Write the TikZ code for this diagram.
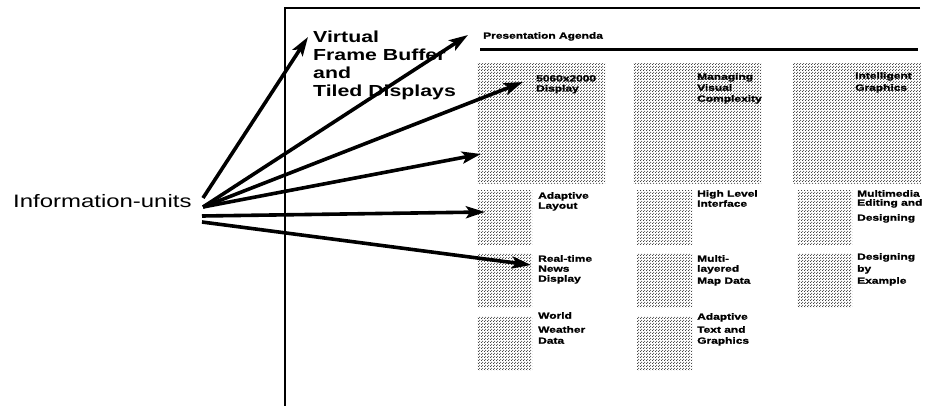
\documentclass[tikz,border=0pt]{standalone}
\usepackage{fontspec}
\setmainfont{Liberation Sans}
\newfontfamily\widesans{Liberation Sans}[FakeStretch=1.33]
\newfontfamily\heavysans{Liberation Sans}[FakeStretch=1.33,BoldFeatures={FakeBold=1.2}]
\usetikzlibrary{arrows.meta,patterns.meta}

% fine halftone dots used for the screen panels
\tikzdeclarepattern{
  name=stipple,
  type=uncolored,
  bottom left={(0pt,0pt)},
  top right={(2.6pt,2.6pt)},
  tile size={(2.6pt,2.6pt)},
  code={
    \fill (0.65pt,0.65pt) circle (0.58pt);
    \fill (1.95pt,1.95pt) circle (0.58pt);
  }
}

\begin{document}
\begin{tikzpicture}[x=1pt,y=-1pt,
  frame/.style={line width=2pt},
  rule/.style={line width=3pt},
  ray/.style={line width=3.6pt,-{Stealth[length=19pt,width=12pt,inset=4pt]}},
  panel/.style={pattern=stipple,pattern color=black!80,anchor=north west,inner sep=0pt},
  bigpanel/.style={panel,minimum width=128pt,minimum height=120pt},
  smallpanel/.style={panel,minimum width=55pt,minimum height=54pt},
  lbl/.style={anchor=north west,inner sep=0pt,align=left,
    font=\heavysans\bfseries\fontsize{9}{10}\selectfont},
]
\useasboundingbox (0,0) rectangle (945,406);

% page frame and agenda rule
\coordinate (fr-tr) at (920,8);
\coordinate (fr-tl) at (285,8);
\coordinate (fr-bl) at (285,406);
\draw[frame] (fr-tr) -- (fr-tl) -- (fr-bl);
\coordinate (ul-l) at (480,50);
\coordinate (ul-r) at (918,50);
\draw[rule] (ul-l) -- (ul-r);

% screen panels
\node[bigpanel] (big1) at (477,63) {};
\node[bigpanel] (big2) at (633,63) {};
\node[bigpanel] (big3) at (793,63) {};
\node[smallpanel] (s11) at (477,190) {};
\node[smallpanel] (s12) at (477,253) {};
\node[smallpanel] (s13) at (477,316) {};
\node[smallpanel] (s21) at (637,190) {};
\node[smallpanel] (s22) at (637,253) {};
\node[smallpanel] (s23) at (637,316) {};
\node[smallpanel] (s31) at (797,190) {};
\node[smallpanel] (s32) at (797,253) {};

% panel captions
\node[lbl] (agenda) at (483,32) {Presentation Agenda};
\node[lbl] (l-big1) at (536,75) {5060x2000\\Display};
\node[lbl] (l-big2) at (697,73) {Managing\\[1pt]Visual\\[1pt]Complexity};
\node[lbl] (l-big3) at (855,72) {Intelligent\\[2pt]Graphics};
\node[lbl] (l-s11) at (538,192) {Adaptive\\Layout};
\node[lbl] (l-s12) at (538,255) {Real-time\\News\\Display};
\node[lbl] (l-s13) at (538,312) {World\\[4pt]Weather\\[1pt]Data};
\node[lbl] (l-s21) at (697,190) {High Level\\Interface};
\node[lbl] (l-s22) at (697,255) {Multi-\\layered\\[2pt]Map Data};
\node[lbl] (l-s23) at (697,313) {Adaptive\\[3pt]Text and\\[1pt]Graphics};
\node[lbl] (l-s31) at (857,190) {Multimedia\\[-1pt]Editing and\\[5pt]Designing};
\node[lbl] (l-s32) at (857,253) {Designing\\[2pt]by\\[2pt]Example};

% headline of the frame
\node[anchor=north west,inner sep=0pt,align=left,
  font=\widesans\bfseries\fontsize{16}{18}\selectfont] (vfb) at (313,31)
  {Virtual\\Frame Buffer\\and\\Tiled Displays};

% source label
\node[anchor=base west,inner sep=0pt,font=\widesans\fontsize{18}{20}\selectfont]
  (info) at (13,208) {Information-units};

% ray origins next to the source label
\coordinate (o1) at (203,198);
\coordinate (o2) at (203,207);
\coordinate (o5) at (202,216);
\coordinate (o6) at (202,222);

% ray targets
\coordinate (t1) at (308,37);
\coordinate (t2) at (468,35);
\coordinate (t3) at (523,82);
\coordinate (t4) at (481,154);
\coordinate (t5) at (485,212);
\coordinate (t6) at (531,265);

\draw[ray] (o1) -- (t1);
\draw[ray] (o2) -- (t2);
\draw[ray] (o2) -- (t3);
\draw[ray] (o2) -- (t4);
\draw[ray] (o5) -- (t5);
\draw[ray] (o6) -- (t6);
\end{tikzpicture}
\end{document}
